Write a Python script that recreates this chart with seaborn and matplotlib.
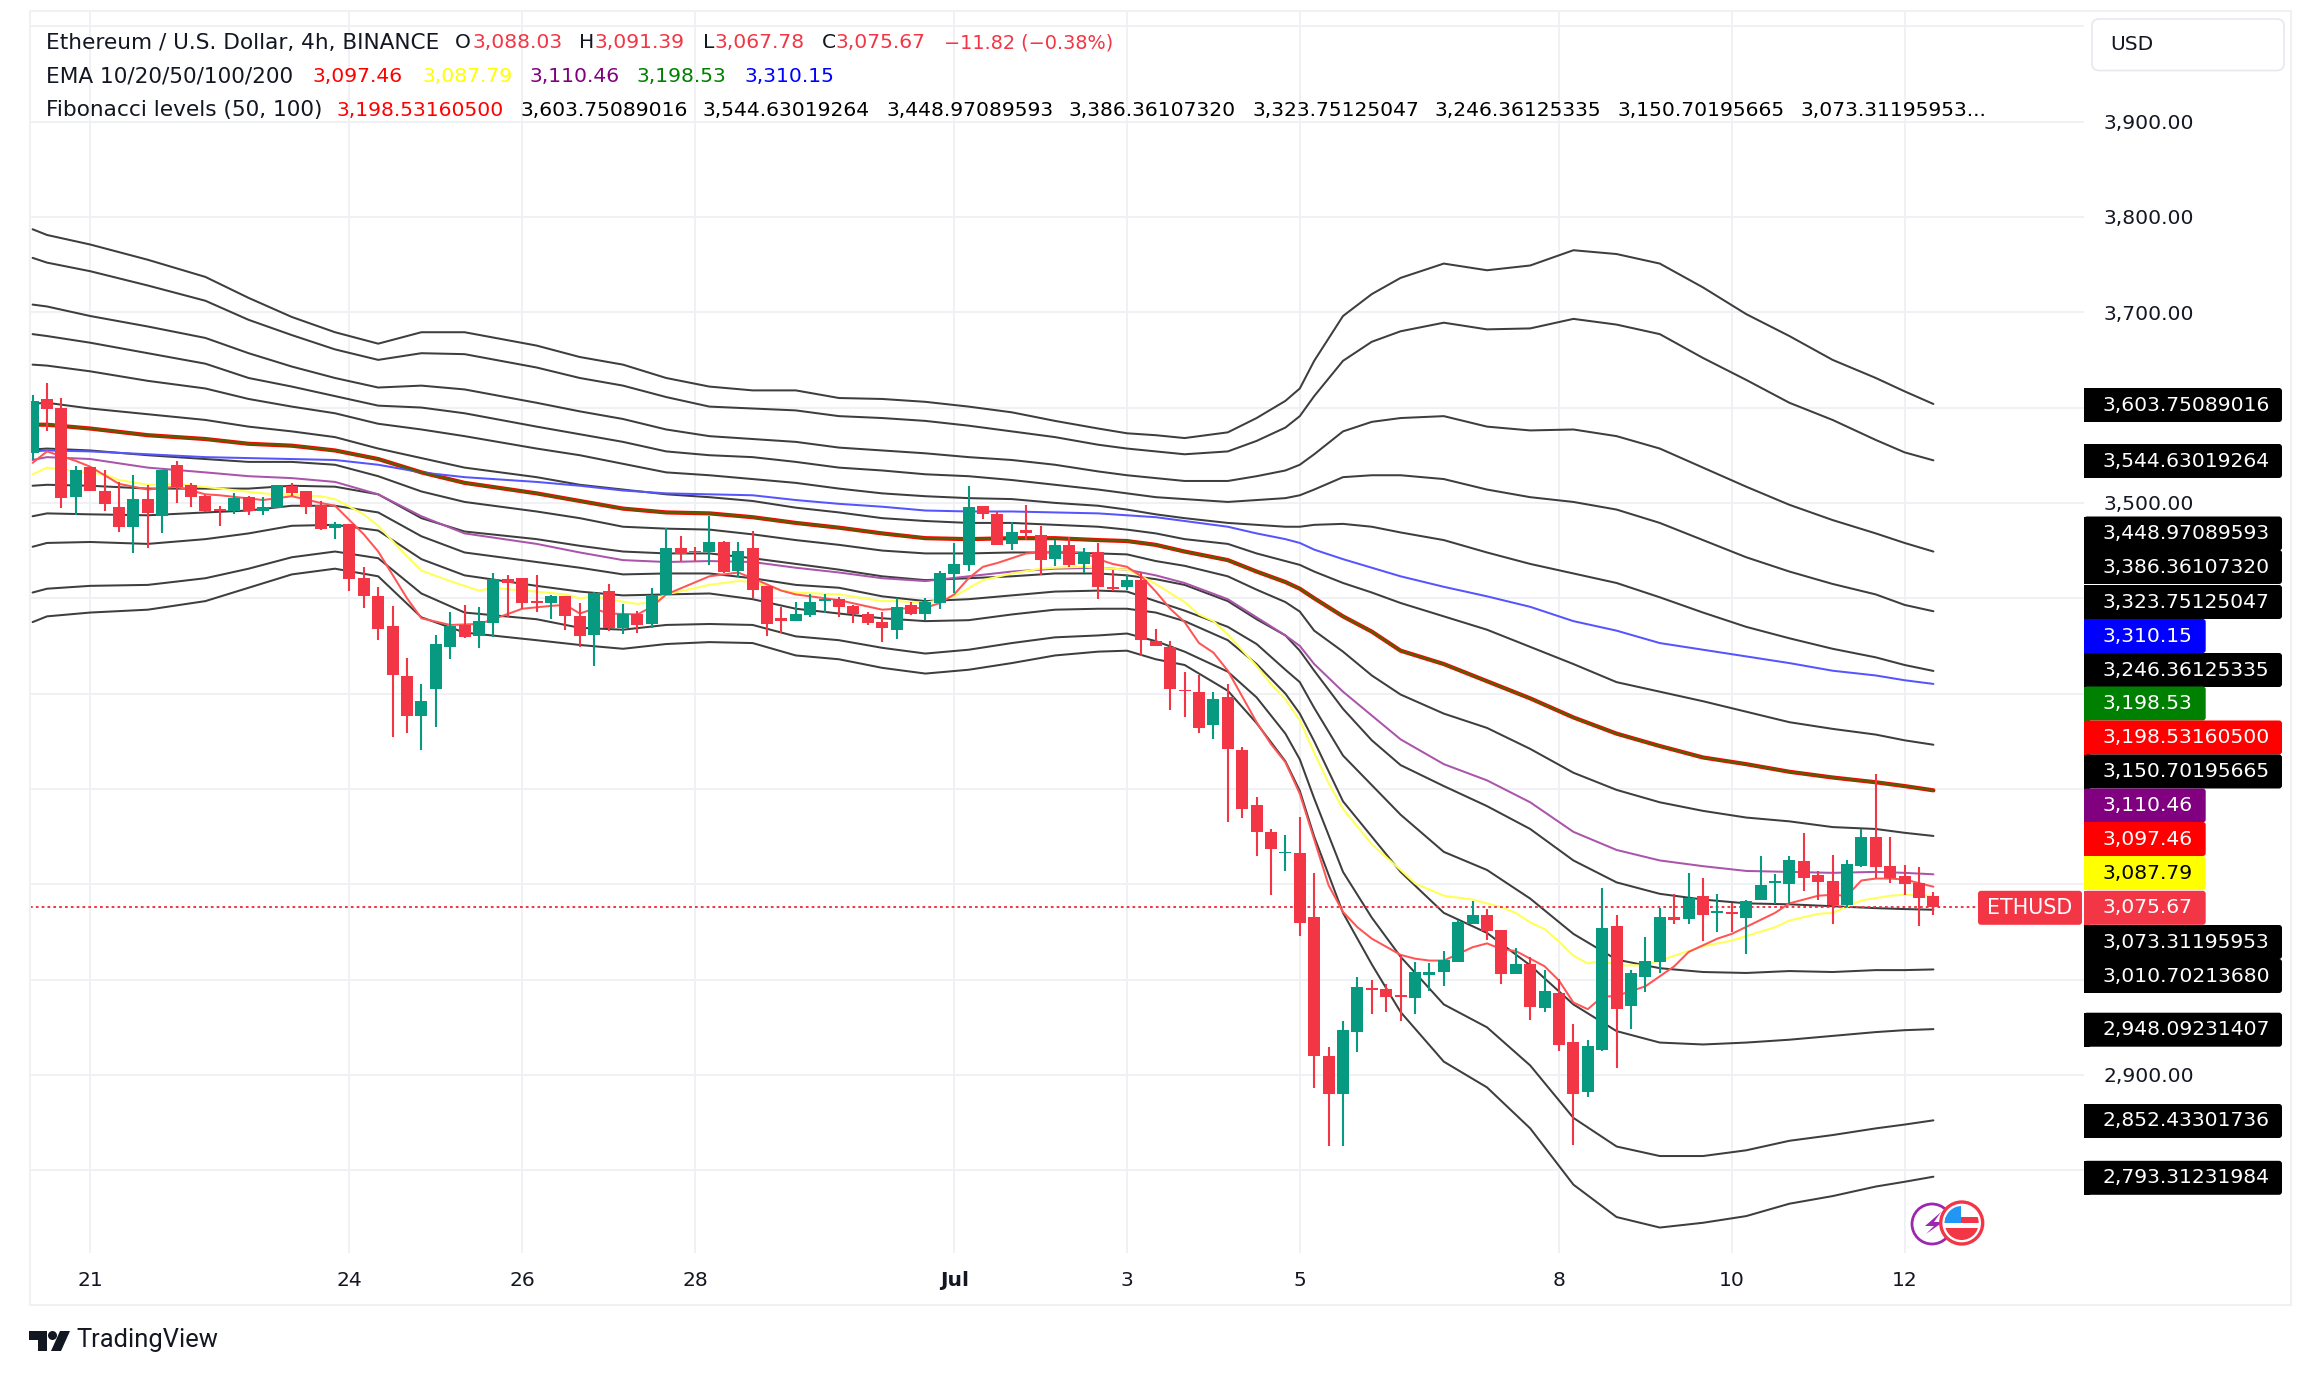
#!/usr/bin/env python3
"""ETHUSD 4h candles with EMA ribbon and Fibonacci level bands, TradingView look."""

import matplotlib
matplotlib.use("Agg")
import matplotlib.pyplot as plt
import seaborn as sns
from matplotlib.patches import Circle, FancyBboxPatch, Polygon, Rectangle

# candles, one value per 4h bar
opens = [3552, 3609, 3600, 3506, 3538, 3513, 3496, 3475, 3504, 3486,
         3540, 3519, 3507, 3494, 3492, 3506, 3491, 3495, 3518, 3512,
         3498, 3474, 3478, 3421, 3402, 3371, 3318, 3276, 3305, 3349,
         3372, 3360, 3374, 3420, 3421, 3397, 3395, 3402, 3381, 3361,
         3408, 3369, 3383, 3373, 3403, 3453, 3450, 3448, 3459, 3429,
         3453, 3413, 3379, 3376, 3382, 3397, 3399, 3392, 3383, 3375,
         3367, 3393, 3384, 3395, 3425, 3435, 3497, 3488, 3457, 3472,
         3466, 3441, 3456, 3436, 3449, 3412, 3412, 3419, 3355, 3349,
         3304, 3302, 3267, 3296, 3241, 3183, 3155, 3133, 3133, 3066,
         2920, 2880, 2945, 2991, 2990, 2984, 2981, 3005, 3008, 3018,
         3058, 3068, 3052, 3006, 3016, 2970, 2986, 2935, 2882, 2926,
         3056, 2972, 3003, 3019, 3066, 3064, 3088, 3070, 3071, 3065,
         3084, 3101, 3100, 3124, 3110, 3103, 3078, 3119, 3150, 3119,
         3109, 3101, 3088.03]
highs = [3613, 3626, 3610, 3539, 3538, 3535, 3522, 3529, 3519, 3535,
         3544, 3521, 3508, 3497, 3510, 3507, 3506, 3519, 3521, 3512,
         3502, 3480, 3478, 3433, 3412, 3392, 3337, 3310, 3361, 3386,
         3393, 3391, 3426, 3424, 3421, 3424, 3403, 3402, 3395, 3407,
         3415, 3394, 3387, 3411, 3474, 3465, 3454, 3486, 3460, 3459,
         3471, 3413, 3391, 3396, 3404, 3404, 3401, 3393, 3386, 3386,
         3400, 3396, 3400, 3429, 3458, 3518, 3497, 3491, 3480, 3498,
         3476, 3461, 3464, 3453, 3458, 3430, 3424, 3428, 3368, 3355,
         3323, 3319, 3302, 3310, 3244, 3192, 3158, 3152, 3171, 3112,
         2929, 2957, 3003, 3000, 2995, 3026, 3018, 3017, 3030, 3063,
         3082, 3074, 3052, 3033, 3024, 3010, 3001, 2953, 2937, 3096,
         3068, 3010, 3045, 3075, 3090, 3112, 3107, 3090, 3080, 3084,
         3130, 3111, 3130, 3154, 3114, 3131, 3125, 3158, 3216, 3150,
         3120, 3118, 3091.39]
lows = [3545, 3575, 3495, 3487, 3512, 3491, 3469, 3447, 3453, 3468,
        3500, 3496, 3490, 3476, 3488, 3487, 3487, 3495, 3507, 3488,
        3472, 3462, 3408, 3390, 3356, 3254, 3259, 3241, 3265, 3336,
        3358, 3348, 3359, 3380, 3389, 3386, 3378, 3367, 3349, 3329,
        3366, 3363, 3364, 3369, 3403, 3439, 3439, 3435, 3427, 3422,
        3400, 3360, 3364, 3376, 3380, 3385, 3380, 3374, 3372, 3354,
        3357, 3382, 3377, 3389, 3405, 3429, 3483, 3456, 3451, 3461,
        3424, 3434, 3433, 3427, 3399, 3408, 3409, 3339, 3350, 3283,
        3275, 3259, 3252, 3165, 3170, 3130, 3089, 3114, 3046, 2886,
        2825, 2825, 2924, 2964, 2966, 2957, 2964, 2988, 2993, 3018,
        3058, 3042, 2995, 3006, 2958, 2966, 2925, 2827, 2877, 2925,
        2907, 2948, 2987, 3007, 3058, 3058, 3040, 3050, 3050, 3027,
        3084, 3079, 3079, 3093, 3084, 3058, 3076, 3118, 3107, 3101,
        3089, 3056, 3067.78]
closes = [3607, 3598, 3505, 3535, 3512, 3499, 3475, 3504, 3489, 3535,
          3517, 3506, 3492, 3492, 3505, 3491, 3496, 3519, 3510, 3496,
          3473, 3478, 3420, 3402, 3368, 3319, 3277, 3292, 3352, 3371,
          3359, 3376, 3420, 3416, 3395, 3395, 3402, 3381, 3360, 3405,
          3369, 3383, 3372, 3403, 3453, 3446, 3448, 3459, 3428, 3450,
          3409, 3373, 3376, 3383, 3396, 3399, 3391, 3383, 3374, 3369,
          3391, 3384, 3396, 3426, 3436, 3496, 3488, 3456, 3470, 3468,
          3440, 3456, 3435, 3449, 3412, 3410, 3419, 3356, 3350, 3305,
          3303, 3264, 3294, 3242, 3179, 3155, 3137, 3134, 3059, 2920,
          2880, 2947, 2992, 2989, 2982, 2982, 3008, 3008, 3021, 3060,
          3068, 3051, 3006, 3016, 2971, 2988, 2931, 2880, 2930, 3054,
          2969, 3007, 3020, 3066, 3063, 3086, 3068, 3072, 3069, 3082,
          3099, 3103, 3125, 3107, 3102, 3078, 3121, 3150, 3118, 3107,
          3100, 3086, 3075.67]

level_bars = [0, 1, 4, 8, 12, 15, 18, 21, 24, 27, 30, 35,
              38, 41, 44, 47, 50, 53, 56, 59, 62, 65, 68,
              71, 74, 76, 78, 80, 83, 85, 87, 88,
              89, 91, 93, 95, 98, 101, 104, 107, 110, 113, 116, 119, 122, 125, 128, 130, 132]

fib_1 = [3787, 3781, 3771, 3755, 3737, 3715, 3695, 3679, 3667, 3679, 3679, 3665,
         3653, 3645, 3631, 3622, 3618, 3618, 3610, 3609, 3606, 3601, 3595,
         3586, 3578, 3573, 3571, 3568, 3574, 3589, 3607, 3620,
         3649, 3696, 3719, 3736, 3751, 3744, 3749, 3765, 3761, 3751, 3726, 3698, 3675, 3650, 3631, 3617, 3603.75]
fib_2 = [3757, 3752, 3743, 3728, 3712, 3692, 3676, 3661, 3650, 3657, 3656, 3642,
         3631, 3623, 3611, 3601, 3599, 3597, 3591, 3589, 3586, 3581, 3575,
         3569, 3561, 3557, 3554, 3551, 3554, 3565, 3579, 3591,
         3612, 3649, 3669, 3680, 3689, 3682, 3683, 3693, 3687, 3677, 3652, 3629, 3605, 3587, 3566, 3553, 3544.63]
fib_3 = [3708, 3706, 3696, 3685, 3673, 3657, 3643, 3631, 3621, 3623, 3619, 3605,
         3596, 3588, 3577, 3570, 3567, 3564, 3558, 3555, 3552, 3548, 3545,
         3540, 3533, 3529, 3526, 3523, 3523, 3528, 3534, 3540,
         3551, 3575, 3585, 3589, 3591, 3580, 3576, 3577, 3570, 3557, 3537, 3517, 3498, 3482, 3468, 3458, 3448.97]
fib_4 = [3677, 3675, 3668, 3657, 3646, 3631, 3622, 3612, 3602, 3600, 3594, 3580,
         3572, 3564, 3554, 3550, 3548, 3543, 3537, 3534, 3530, 3528, 3524,
         3519, 3514, 3510, 3506, 3504, 3501, 3503, 3505, 3508,
         3514, 3527, 3529, 3529, 3525, 3514, 3506, 3501, 3493, 3479, 3461, 3443, 3428, 3415, 3404, 3393, 3386.36]
fib_5 = [3645, 3644, 3638, 3628, 3620, 3609, 3601, 3594, 3583, 3577, 3570, 3557,
         3550, 3541, 3532, 3529, 3525, 3521, 3515, 3510, 3507, 3505, 3504,
         3500, 3497, 3493, 3488, 3484, 3479, 3477, 3475, 3475,
         3477, 3478, 3475, 3469, 3461, 3448, 3436, 3426, 3416, 3401, 3385, 3370, 3358, 3347, 3338, 3330, 3323.75]
fib_6 = [3604, 3605, 3599, 3593, 3587, 3580, 3575, 3569, 3557, 3547, 3537, 3527,
         3519, 3514, 3509, 3506, 3502, 3495, 3490, 3484, 3481, 3479, 3479,
         3477, 3475, 3472, 3468, 3462, 3457, 3447, 3439, 3435,
         3428, 3416, 3406, 3395, 3381, 3367, 3349, 3331, 3312, 3302, 3292, 3281, 3270, 3263, 3257, 3251, 3246.36]
fib_mid = [3582, 3582, 3578, 3571, 3567, 3562, 3560, 3555, 3546, 3532, 3521, 3510,
           3502, 3494, 3490, 3489, 3485, 3479, 3474, 3468, 3463, 3462, 3463,
           3463, 3461, 3460, 3456, 3449, 3440, 3428, 3417, 3410,
           3400, 3381, 3365, 3345, 3331, 3313, 3295, 3275, 3258, 3245, 3233, 3226, 3218, 3212, 3207, 3203, 3198.53]
fib_8 = [3556, 3557, 3555, 3550, 3546, 3543, 3543, 3540, 3528, 3512, 3501, 3491,
         3484, 3475, 3473, 3472, 3467, 3461, 3456, 3450, 3447, 3447, 3448,
         3448, 3447, 3446, 3439, 3434, 3423, 3409, 3396, 3386,
         3366, 3344, 3319, 3299, 3279, 3264, 3242, 3217, 3199, 3186, 3177, 3170, 3166, 3160, 3158, 3154, 3150.70]
fib_9 = [3518, 3519, 3518, 3515, 3515, 3515, 3518, 3517, 3509, 3484, 3470, 3462,
         3455, 3449, 3447, 3447, 3442, 3436, 3430, 3423, 3419, 3421, 3423,
         3426, 3426, 3424, 3420, 3414, 3397, 3378, 3361, 3345,
         3324, 3284, 3251, 3225, 3203, 3182, 3158, 3125, 3102, 3090, 3084, 3080, 3079, 3077, 3075, 3074, 3073.31]
fib_10 = [3486, 3489, 3488, 3487, 3490, 3492, 3497, 3497, 3490, 3465, 3448, 3438,
          3432, 3425, 3426, 3426, 3421, 3414, 3411, 3402, 3397, 3399, 3403,
          3407, 3408, 3407, 3397, 3387, 3370, 3352, 3325, 3312,
          3285, 3235, 3204, 3173, 3134, 3115, 3085, 3048, 3021, 3012, 3008, 3007, 3009, 3008, 3010, 3010, 3010.70]
fib_11 = [3454, 3458, 3459, 3457, 3462, 3468, 3476, 3477, 3471, 3441, 3424, 3413,
          3407, 3403, 3404, 3405, 3399, 3389, 3384, 3379, 3376, 3377, 3383,
          3388, 3389, 3389, 3385, 3376, 3356, 3331, 3300, 3279,
          3250, 3187, 3150, 3113, 3070, 3049, 3015, 2974, 2946, 2934, 2932, 2934, 2937, 2941, 2945, 2947, 2948.09]
fib_12 = [3406, 3410, 3413, 3414, 3421, 3431, 3443, 3449, 3442, 3405, 3385, 3378,
          3369, 3367, 3372, 3373, 3372, 3360, 3356, 3348, 3342, 3346, 3353,
          3359, 3361, 3363, 3355, 3344, 3323, 3296, 3258, 3231,
          3190, 3113, 3065, 3024, 2974, 2950, 2910, 2855, 2825, 2815, 2815, 2821, 2831, 2837, 2844, 2848, 2852.43]
fib_13 = [3375, 3381, 3385, 3388, 3397, 3411, 3425, 3431, 3423, 3380, 3364, 3356,
          3351, 3347, 3352, 3354, 3353, 3340, 3336, 3327, 3321, 3325, 3332,
          3340, 3344, 3345, 3336, 3330, 3303, 3269, 3229, 3198,
          3150, 3070, 3016, 2966, 2914, 2887, 2844, 2785, 2751, 2740, 2745, 2752, 2765, 2773, 2783, 2788, 2793.31]

ema200 = [3554, 3555, 3554, 3551, 3548, 3547, 3546, 3545, 3540, 3532, 3527, 3522,
          3518, 3513, 3510, 3509, 3508, 3503, 3499, 3496, 3492, 3491, 3491,
          3490, 3489, 3487, 3485, 3481, 3475, 3468, 3462, 3458,
          3451, 3441, 3432, 3423, 3412, 3402, 3391, 3376, 3366, 3353, 3346, 3339, 3332, 3324, 3319, 3314, 3310.15]
ema50 = [3545, 3548, 3546, 3537, 3532, 3528, 3526, 3522, 3509, 3486, 3468, 3457,
         3448, 3440, 3438, 3439, 3438, 3432, 3427, 3421, 3418, 3423, 3428,
         3431, 3432, 3430, 3424, 3416, 3399, 3380, 3361, 3350,
         3331, 3302, 3277, 3252, 3226, 3209, 3186, 3155, 3136, 3125, 3119, 3114, 3113, 3112, 3113, 3112, 3110.46]

# the two fast EMAs wiggle, so they got their own reading points
ema10_bars = [0, 1, 3, 4, 6, 8, 10, 12, 13, 16, 18, 20, 21, 23, 24, 26, 27, 29, 31, 32,
              34, 36, 37, 38, 39, 40, 42, 43, 44, 47, 49, 50, 52, 53, 56, 59, 60, 62, 63, 64,
              65, 66, 67, 69, 71, 73, 74, 75, 76, 77, 78, 79, 80, 81, 82, 83, 85, 86, 87, 88,
              90, 91, 92, 93, 95, 96, 97, 98, 100, 101, 102, 103, 105, 106, 107, 108, 109, 110, 112, 114,
              115, 117, 118, 121, 122, 124, 125, 126, 127, 128, 129, 130, 132]
ema10 = [3542, 3554, 3544, 3538, 3520, 3514, 3517, 3509, 3508, 3503, 3507, 3500, 3497, 3467, 3449, 3400, 3379, 3372, 3373, 3378,
         3389, 3392, 3393, 3384, 3389, 3384, 3383, 3391, 3404, 3423, 3427, 3421, 3408, 3404, 3398, 3388, 3389, 3390, 3395, 3404,
         3421, 3433, 3437, 3447, 3449, 3448, 3441, 3436, 3433, 3423, 3407, 3389, 3375, 3353, 3343, 3324, 3270, 3247, 3228, 3195,
         3099, 3071, 3055, 3043, 3026, 3022, 3020, 3020, 3034, 3038, 3032, 3030, 3014, 2999, 2976, 2969, 2982, 2983, 2993, 3014,
         3029, 3043, 3048, 3070, 3080, 3088, 3089, 3088, 3104, 3106, 3106, 3105, 3097.46]

ema20_bars = [0, 1, 3, 5, 6, 8, 10, 13, 16, 17, 20, 21, 23, 24, 26, 27, 29, 31, 32, 34,
              35, 37, 38, 39, 40, 42, 43, 44, 47, 48, 49, 50, 52, 53, 56, 59, 60, 62, 64, 66,
              68, 70, 71, 73, 74, 76, 77, 78, 80, 81, 82, 83, 85, 86, 87, 88, 89, 90, 91, 93,
              95, 96, 98, 100, 102, 103, 104, 105, 106, 107, 108, 109, 110, 112, 113, 115, 116, 118, 121, 122,
              124, 125, 127, 129, 130, 132]
ema20 = [3530, 3537, 3533, 3530, 3524, 3519, 3520, 3515, 3510, 3509, 3507, 3504, 3488, 3476, 3444, 3429, 3418, 3408, 3411, 3408,
         3407, 3404, 3400, 3402, 3399, 3394, 3396, 3404, 3414, 3416, 3418, 3417, 3408, 3406, 3404, 3397, 3397, 3395, 3402, 3419,
         3426, 3431, 3432, 3433, 3432, 3430, 3423, 3415, 3396, 3383, 3376, 3362, 3329, 3310, 3294, 3272, 3238, 3206, 3179, 3142,
         3115, 3101, 3088, 3084, 3076, 3070, 3060, 3053, 3040, 3025, 3017, 3020, 3015, 3015, 3020, 3030, 3035, 3041, 3055, 3062,
         3069, 3070, 3083, 3088, 3089, 3087.79]

# time axis
day_bars = [4, 22, 34, 46, 64, 76, 88, 106, 118, 130]
day_labels = ["21", "24", "26", "28", "Jul", "3", "5", "8", "10", "12"]

# price axis
price_ticks = [2800, 2900, 3000, 3100, 3200, 3300, 3400, 3500, 3600, 3700, 3800, 3900, 4000]
price_labels = ["", "2,900.00", "", "", "", "", "", "3,500.00", "", "3,700.00", "3,800.00", "3,900.00", ""]

# header text
ema_names = "EMA 10/20/50/100/200"
ema_values = ["3,097.46", "3,087.79", "3,110.46", "3,198.53", "3,310.15"]
fib_names = "Fibonacci levels (50, 100)"
fib_values = ["3,198.53160500", "3,603.75089016", "3,544.63019264", "3,448.97089593", "3,386.36107320",
              "3,323.75125047", "3,246.36125335", "3,150.70195665", "3,073.31195953..."]

# right hand price badges, top to bottom
badge_texts = ["3,603.75089016", "3,544.63019264", "3,448.97089593", "3,386.36107320", "3,323.75125047",
               "3,310.15", "3,246.36125335", "3,198.53", "3,198.53160500", "3,150.70195665",
               "3,110.46", "3,097.46", "3,087.79", "3,075.67", "3,073.31195953",
               "3,010.70213680", "2,948.09231407", "2,852.43301736", "2,793.31231984"]
badge_colors = ["#000000", "#000000", "#000000", "#000000", "#000000",
                "#0000FF", "#000000", "#008000", "#FF0000", "#000000",
                "#800080", "#FF0000", "#FFFF00", "#F23645", "#000000",
                "#000000", "#000000", "#000000", "#000000"]
badge_rows = [405, 461, 533.5, 567, 602, 636, 670, 703.5, 737.5, 771.5, 805.5, 839, 873, 907.8, 942, 976, 1029.7, 1121, 1177.8]

UP = "#089981"
DOWN = "#F23645"
INK = "#131722"
GRID = "#F0F1F5"
FONT_PT = 14.6
NAME_PT = 15.6

W, H = 2312, 1375
LEFT, RIGHT, TOP, BOTTOM = 29.5, 2084, 11, 1253
BAR_PX = 14.4
FIRST_BAR_PX = 32.6

sns.set_style("white")
plt.rcParams["font.family"] = ["DejaVu Sans"]

fig = plt.figure(figsize=(W / 100, H / 100), dpi=100, facecolor="white")
ax = fig.add_axes([LEFT / W, 1 - BOTTOM / H, (RIGHT - LEFT) / W, (BOTTOM - TOP) / H])

# grid and scales
ax.set_xlim((LEFT - FIRST_BAR_PX) / BAR_PX, (RIGHT - FIRST_BAR_PX) / BAR_PX)
ax.set_ylim(2713.3, 4015.9)
ax.set_xticks(day_bars, day_labels)
ax.set_yticks(price_ticks, price_labels)
ax.yaxis.tick_right()
ax.grid(True, color=GRID, linewidth=1.4)
ax.set_axisbelow(True)
ax.tick_params(axis="both", length=0, labelsize=FONT_PT, labelcolor=INK)
ax.tick_params(axis="x", pad=13)
ax.tick_params(axis="y", pad=13.7)
for label in ax.get_xticklabels():
    if label.get_text() == "Jul":
        label.set_fontweight("bold")
for spine in ax.spines.values():
    spine.set_visible(False)

# fibonacci levels
fib_lines = [fib_1, fib_2, fib_3, fib_4, fib_5, fib_6, fib_8, fib_9, fib_10, fib_11, fib_12, fib_13]
for values in fib_lines:
    sns.lineplot(x=level_bars, y=values, color="#333333", linewidth=1.45, alpha=0.95,
                 errorbar=None, ax=ax, zorder=2)

# the mid level sits under EMA 100, same values
sns.lineplot(x=level_bars, y=fib_mid, color="#FF0000", linewidth=3.0, errorbar=None, ax=ax, zorder=3)
sns.lineplot(x=level_bars, y=fib_mid, color="#556000", linewidth=1.7, errorbar=None, ax=ax, zorder=3.1)

sns.lineplot(x=level_bars, y=ema200, color="#5555FF", linewidth=1.45, errorbar=None, ax=ax, zorder=3)
sns.lineplot(x=level_bars, y=ema50, color="#AA55AA", linewidth=1.45, errorbar=None, ax=ax, zorder=3)
sns.lineplot(x=ema20_bars, y=ema20, color="#FFFF55", linewidth=1.45, errorbar=None, ax=ax, zorder=3)
sns.lineplot(x=ema10_bars, y=ema10, color="#FF5555", linewidth=1.45, errorbar=None, ax=ax, zorder=3)

# last price line
ax.axhline(closes[-1], xmax=(1978 - LEFT) / (RIGHT - LEFT), color=DOWN, linewidth=1.4,
           linestyle=(0, (1.4, 1.6)), zorder=4)

# candles
bars = list(range(len(opens)))
colors = [UP if c >= o else DOWN for o, c in zip(opens, closes)]
ax.vlines(bars, lows, highs, colors=colors, linewidth=1.5, zorder=5)
ax.bar(bars, [c - o for o, c in zip(opens, closes)], bottom=opens, width=12 / BAR_PX,
       color=colors, linewidth=0, zorder=6)

# everything around the chart goes on a pixel overlay
over = fig.add_axes([0, 0, 1, 1])
over.set_xlim(0, W)
over.set_ylim(H, 0)
over.axis("off")

over.add_patch(Rectangle((LEFT, TOP), 2291 - LEFT, 1305 - TOP, fill=False, edgecolor=GRID, linewidth=1.5))


def put(x, y, text, color=INK, **kw):
    kw.setdefault("fontsize", FONT_PT)
    over.text(x, y, text, color=color, va="center", ha=kw.pop("ha", "left"), **kw)


# header rows
put(46, 42.5, "Ethereum / U.S. Dollar, 4h, BINANCE", fontsize=NAME_PT)
for x, letter, value_x, value in [(455, "O", 472, "3,088.03"), (579, "H", 594, "3,091.39"),
                                  (703, "L", 714, "3,067.78"), (822, "C", 835.5, "3,075.67")]:
    put(x, 42.5, letter)
    put(value_x, 42.5, value, DOWN)
put(944, 42.5, "\u221211.82 (\u22120.38%)", DOWN, fontsize=13.9)

put(46, 76, ema_names, fontsize=NAME_PT)
for x, value, color in zip([313, 422, 529.5, 636.5, 745], ema_values,
                           ["#FF0000", "#FFFF00", "#800080", "#008000", "#0000FF"]):
    put(x, 76, value, color)

put(46, 110, fib_names, fontsize=NAME_PT)
for i, (x, value) in enumerate(zip([336, 520, 702, 886, 1069, 1252, 1435, 1617.5, 1800], fib_values)):
    put(x, 110, value, "#FF0000" if i == 0 else "#000000")

# currency box
over.add_patch(FancyBboxPatch((2092, 19), 192, 51.5, boxstyle="round,pad=0,rounding_size=7",
                              facecolor="white", edgecolor="#E8EAF0", linewidth=1.3))
put(2110, 44.6, "USD")

# price badges
for text, color, row in zip(badge_texts, badge_colors, badge_rows):
    right = 2282 if len(text) > 8 else 2205.7
    over.add_patch(FancyBboxPatch((2084, row - 17), right - 2084, 34, boxstyle="round,pad=0,rounding_size=3",
                                  facecolor=color, edgecolor="none"))
    over.add_patch(Rectangle((2084, row - 17), 6, 34, facecolor=color, edgecolor="none"))
    put(2103, row, text, "#000000" if color == "#FFFF00" else "#FFFFFF")

over.add_patch(FancyBboxPatch((1978, 907.8 - 17), 104, 34, boxstyle="round,pad=0,rounding_size=3",
                              facecolor=DOWN, edgecolor="none"))
put(2030, 907.8, "ETHUSD", "#FFFFFF", ha="center", fontsize=14.9)

# event icons
over.add_patch(Circle((1932, 1224), 20, fill=False, edgecolor="#9C27B0", linewidth=2))
over.add_patch(Polygon([(1941, 1212), (1925, 1226), (1934, 1226), (1926, 1234), (1943, 1222), (1934, 1222)],
                       facecolor="#9C27B0", edgecolor="none"))
over.add_patch(Circle((1961.7, 1223), 21, facecolor="white", edgecolor=DOWN, linewidth=2.4))
flag_clip = Circle((1961.7, 1223), 17, transform=over.transData)
for art in [Rectangle((1940, 1217), 44, 6, facecolor=DOWN), Rectangle((1940, 1228), 44, 20, facecolor=DOWN),
            Rectangle((1940, 1201), 21, 22, facecolor="#2196F3")]:
    art.set_edgecolor("none")
    over.add_patch(art)
    art.set_clip_path(flag_clip)

# logo
over.add_patch(Polygon([(29, 1331), (47, 1331), (47, 1351), (38, 1351), (38, 1340), (29, 1340)],
                       facecolor=INK, edgecolor="none"))
over.add_patch(Circle((52.5, 1335.5), 4.5, facecolor=INK, edgecolor="none"))
over.add_patch(Polygon([(60, 1331), (70, 1331), (61, 1351), (51, 1351)], facecolor=INK, edgecolor="none"))
put(76, 1340, "TradingView", family="Roboto", fontsize=18.4)

fig.savefig("out.png", dpi=100, facecolor="white")
